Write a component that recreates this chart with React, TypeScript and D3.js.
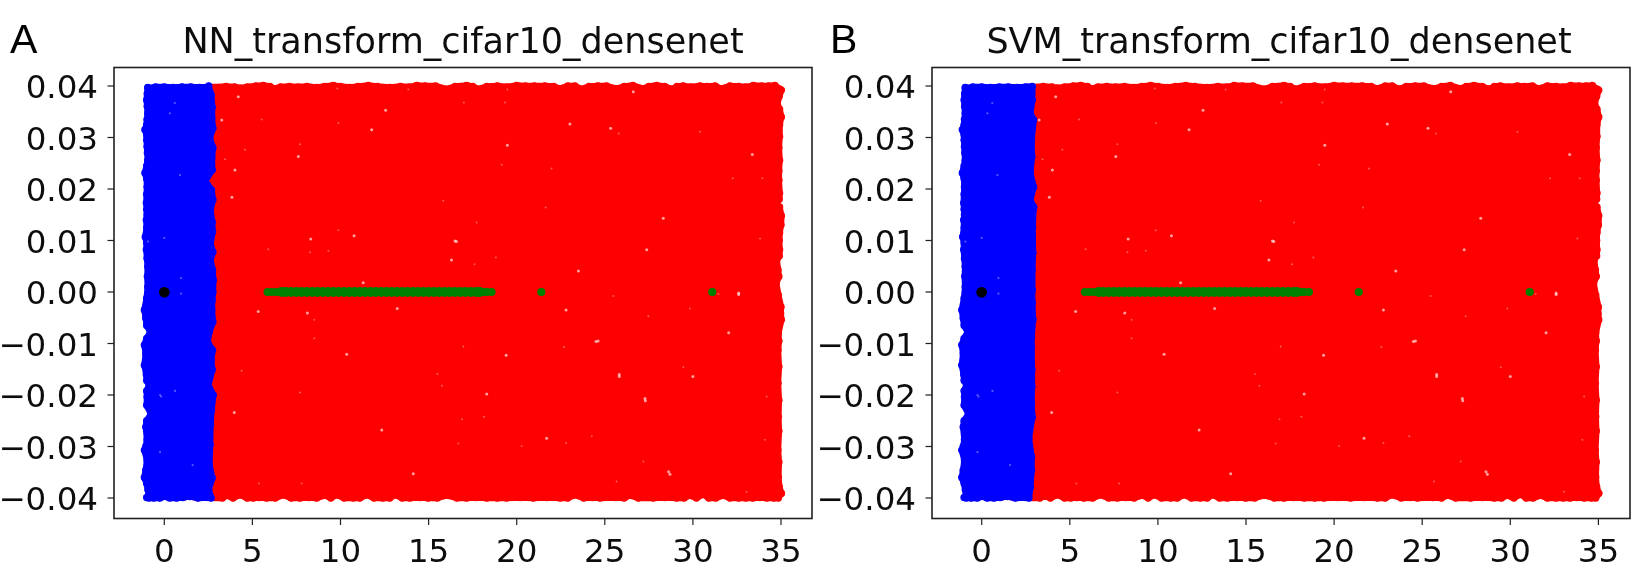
import React from "react";
import * as d3 from "d3";

type P = [number, number];

const panelLetters = ["A", "B"];
const panelTitles = ["NN_transform_cifar10_densenet", "SVM_transform_cifar10_densenet"];
const xTickValues = [0, 5, 10, 15, 20, 25, 30, 35];
const xTickLabels = ["0", "5", "10", "15", "20", "25", "30", "35"];
const yTickValues = [0.04, 0.03, 0.02, 0.01, 0, -0.01, -0.02, -0.03, -0.04];
const yTickLabels = ["0.04", "0.03", "0.02", "0.01", "0.00", "\u22120.01", "\u22120.02", "\u22120.03", "\u22120.04"];

// Outline of the scatter cloud
const topEdge: P[] = [[-0.92,.0396],[-0.5,.0398],[0,.0398],[0.5,.0397],[1,.0398],[1.5,.0398],[2,.0397],[2.5,.0398],[3,.0398],[3.5,.0399],[4,.0398],[4.3,.0396],[4.7,.0398],[5.2,.04],[5.62,.0401],[6,.0399],[6.19,.0395],[6.6,.0398],[7.1,.0399],[7.6,.0398],[8.1,.0399],[8.65,.0397],[9.1,.0399],[9.59,.0401],[10,.0399],[10.54,.0397],[11,.0399],[11.58,.0401],[12.1,.0399],[12.81,.0397],[13.4,.0399],[13.9,.0398],[14.33,.0401],[14.8,.04],[15.4,.04],[16.03,.0394],[16.5,.0399],[17.16,.0401],[17.5,.0399],[17.82,.0394],[18.3,.0399],[18.9,.04],[19.47,.0398],[20,.0401],[20.5,.04],[21,.04],[21.6,.04],[22.1,.0399],[22.46,.0395],[22.9,.04],[23.3,.04],[23.69,.0394],[24.1,.0399],[24.6,.04],[25.1,.04],[25.67,.0395],[26.1,.0399],[26.6,.0401],[27.17,.0395],[27.5,.0399],[27.94,.0401],[28.4,.0399],[28.8,.0394],[29.1,.0399],[29.44,.04],[29.9,.0398],[30.4,.04],[30.8,.0399],[31.26,.04],[31.6,.0395],[32.1,.04],[32.6,.0399],[33,.0398],[33.43,.0401],[33.9,.04],[34.3,.04],[34.66,.0401],[34.94,.0394]];
const rightEdge: P[] = [[35.02,.0392],[34.9,.038],[34.79,.0366],[34.92,.0355],[35.02,.034],[34.92,.0325],[34.92,.0302],[34.88,.028],[34.92,.0256],[34.88,.0235],[34.88,.0217],[34.92,.0192],[34.9,.018],[34.73,.0173],[34.92,.0165],[35.02,.0148],[35,.013],[34.92,.0115],[34.9,.01],[34.92,.0082],[34.9,.007],[34.76,.0062],[34.83,.0043],[34.88,.003],[34.73,.0017],[34.85,-.0006],[35,-.0029],[34.98,-.0042],[35.02,-.0054],[34.85,-.008],[34.88,-.0095],[34.83,-.0113],[34.88,-.0145],[34.83,-.0177],[34.88,-.021],[34.85,-.0242],[34.88,-.027],[34.83,-.0307],[34.88,-.033],[34.85,-.0359],[34.9,-.0378],[35.02,-.0391]];
const bottomEdge: P[] = [[-1,-.0399],[-0.6,-.04],[-0.25,-.04],[-0.05,-.0397],[0.3,-.04],[0.7,-.04],[1.05,-.0399],[1.46,-.0397],[1.9,-.04],[2.5,-.0399],[2.93,-.04],[3.3,-.04],[3.54,-.0395],[3.9,-.04],[4.3,-.0394],[4.7,-.04],[5.05,-.04],[5.4,-.0399],[5.8,-.04],[6.3,-.04],[6.75,-.0394],[7.2,-.04],[7.7,-.04],[8.2,-.0399],[8.65,-.04],[9.12,-.0395],[9.45,-.04],[9.78,-.0394],[10.2,-.04],[10.73,-.04],[11.1,-.04],[11.49,-.0394],[11.9,-.04],[12.4,-.04],[12.8,-.04],[13.09,-.0394],[13.5,-.04],[13.94,-.04],[14.5,-.0399],[14.97,-.04],[15.5,-.04],[16.03,-.0395],[16.6,-.04],[17.16,-.04],[17.7,-.0399],[18.3,-.04],[18.9,-.04],[19.43,-.04],[20.2,-.0399],[20.94,-.04],[21.7,-.0399],[22.46,-.04],[22.9,-.04],[23.3,-.0394],[23.8,-.04],[24.3,-.0399],[24.73,-.04],[25.6,-.0399],[26.1,-.04],[26.43,-.0395],[26.9,-.04],[27.75,-.04],[28.4,-.0399],[29.08,-.04],[29.5,-.04],[29.83,-.0395],[30.2,-.04],[30.58,-.0393],[30.9,-.04],[31.3,-.04],[31.73,-.0395],[32.1,-.04],[32.6,-.04],[33,-.04],[33.4,-.04],[33.8,-.0399],[34.19,-.04],[34.6,-.04],[34.85,-.04],[35.02,-.0391]];
const leftEdge: P[] = [[-0.94,.0397],[-0.97,.0385],[-1,.0373],[-0.97,.036],[-0.94,.0347],[-0.98,.0335],[-1,.0325],[-1.1,.0315],[-1,.0305],[-1,.0295],[-0.98,.0282],[-0.96,.027],[-0.94,.0256],[-1,.0245],[-1.1,.0231],[-1,.022],[-0.98,.0204],[-1,.019],[-1.02,.0173],[-1,.016],[-0.98,.015],[-1.02,.014],[-1,.0125],[-1.08,.0107],[-1,.0095],[-1.02,.0082],[-0.98,.0065],[-0.94,.0049],[-0.96,.003],[-0.94,.001],[-1,-.0012],[-1.13,-.0035],[-1.05,-.0051],[-1,-.0065],[-0.79,-.0078],[-1,-.009],[-1.13,-.0103],[-1.05,-.012],[-1.13,-.0142],[-1.02,-.016],[-1,-.0172],[-0.86,-.0181],[-1,-.0192],[-0.98,-.0204],[-1,-.022],[-0.75,-.0237],[-1,-.025],[-1.05,-.0262],[-0.98,-.0287],[-1.05,-.03],[-1.13,-.0307],[-0.98,-.0326],[-1.05,-.0346],[-1.13,-.036],[-1,-.0372],[-0.93,-.0384],[-0.88,-.04]];

// The edge between blue and red class, one list per panel
const boundaryA: P[] = [[2.52,.04],[2.66,.0383],[2.72,.0359],[2.7,.0338],[2.76,.0318],[2.58,.0299],[2.76,.028],[2.7,.026],[2.72,.0237],[2.33,.0216],[2.68,.0198],[2.76,.0179],[2.62,.0159],[2.72,.0136],[2.74,.0117],[2.62,.0093],[2.76,.0078],[2.62,.0062],[2.74,.0043],[2.78,.0023],[2.76,0],[2.72,-.0016],[2.7,-.0035],[2.76,-.0058],[2.55,-.0078],[2.46,-.0097],[2.74,-.0113],[2.66,-.0132],[2.72,-.0151],[2.5,-.0181],[2.78,-.02],[2.68,-.0229],[2.62,-.0258],[2.6,-.0297],[2.56,-.0336],[2.72,-.0361],[2.52,-.0384],[2.66,-.04]];
const boundaryB: P[] = [[2.87,.0399],[2.87,.0373],[2.76,.0347],[2.95,.0334],[2.83,.0295],[2.85,.0262],[2.76,.0231],[2.95,.0204],[2.76,.0179],[2.95,.0165],[2.89,.0126],[2.91,.0076],[2.87,.0043],[2.87,.0004],[2.87,-.0021],[2.91,-.0054],[2.83,-.0087],[2.83,-.0107],[2.85,-.0151],[2.85,-.0184],[2.83,-.0216],[2.87,-.0243],[2.68,-.0284],[2.83,-.032],[2.83,-.0346],[2.76,-.0379],[2.68,-.04]];

// Visible holes in the cloud
const wideGaps: P[] = [[27.28,-.0207],[27.3,-.0211],[25.82,-.016],[25.82,-.0164],[28.62,-.0349],[28.7,-.0354],[24.62,-.0095],[24.5,-.0096],[32.6,-.0002],[32.6,-.0005],[32.03,-.0079],[30,-.0164],[21.7,-.0284],[22.8,-.0035],[19.4,-.0123],[18.3,-.0198],[14.13,-.0353],[16.3,.0062],[23.5,.0041],[23.02,.0326],[25.33,.0318],[19.47,.0285],[16.5,.0099],[16.58,.0098],[27.38,.0082],[28.32,.0143],[33.37,.0267],[26.62,.0389],[8.31,.0103],[10.77,.0109],[3.84,.0184],[4.01,.0237],[3.26,.0334],[4.2,.0379],[11.77,.0315],[12.56,.0353],[7.61,.0263],[11.29,.0018],[13.22,-.0032],[5.33,-.0038],[8.12,-.0041],[10.35,-.0121],[3.97,-.0234],[12.34,-.0268]];
const thinGaps: P[] = [[17.61,.0054],[18.82,.0067],[15.5,-.0159],[15.76,-.0182],[16.97,-.0106],[22.68,-.0107],[29.83,-.0032],[25.48,-.0008],[27.47,-.0047],[22.8,-.0293],[24.26,-.028],[20.28,-.0299],[25.67,-.0368],[27.19,-.0329],[34.19,-.0203],[34.09,-.0287],[29.46,-.0146],[31.44,-.0004],[18.14,-.0242],[16.9,-.0247],[16.69,-.0294],[21.98,.024],[25.79,.0308],[30.4,.0311],[33.94,.0221],[32.26,.0221],[21.64,.0164],[19.15,.0247],[17.73,.0135],[15.83,.0177],[33.81,.0104],[17,.0368],[19.34,.0368],[3.45,.0258],[5.53,.0335],[4.58,.0276],[7.7,.0287],[9.88,.0328],[5.9,.0083],[8.27,.0077],[9.31,.008],[9.88,.012],[8.51,-.0054],[4.39,-.0153],[7.7,-.0195],[5.37,-.0372],[7.8,-.0372],[8.51,-.009],[9.82,.0395],[13.85,.0393],[19.47,.0393],[33.05,-.0388]];
const blueGaps: P[] = [[-0.24,-.02],[-0.18,-.0203],[0.95,-.0003],[0.95,.0027],[-0.24,-.0311],[1.61,-.0336],[0.61,-.0192],[-0.93,.0098],[0,.0105],[0.89,.0227],[0.32,.0347],[0.6,.0367]];

// Green class along y = 0, tapering at both ends
const greenLine: P[] = [[5.86,0],[6.1,0],[6.35,0],[6.6,0],[18.1,0],[18.3,0],[18.57,0],[21.4,0],[31.1,0]];
const greenBody: P[] = [[6.65,0],[6.9,0],[7.2,0],[7.5,0],[7.8,0],[8.1,0],[8.4,0],[8.7,0],[9,0],[9.3,0],[9.6,0],[9.9,0],[10.2,0],[10.5,0],[10.8,0],[11.1,0],[11.4,0],[11.7,0],[12,0],[12.3,0],[12.6,0],[12.9,0],[13.2,0],[13.5,0],[13.8,0],[14.1,0],[14.4,0],[14.7,0],[15,0],[15.3,0],[15.6,0],[15.9,0],[16.2,0],[16.5,0],[16.8,0],[17.1,0],[17.4,0],[17.7,0],[17.9,0]];
const blackPoints: P[] = [[0, 0]];

const frames = [
  { left: 114, right: 812, zero: 164.3 },
  { left: 932, right: 1630, zero: 981.7 },
];
const top = 67.5, bottom = 518.5;
const pxPerUnit = 17.62;
const TICK = 6.5;
const tickFont = 32.5;
const dots = 3.7;

function Panel({ index }: { index: number }) {
  const f = frames[index];
  const x = d3.scaleLinear().domain([0, 35]).range([f.zero, f.zero + 35 * pxPerUnit]);
  const y = d3.scaleLinear().domain([0.04, -0.04]).range([86, 498]);
  const line = d3.line<P>().x((d) => x(d[0])).y((d) => y(d[1]));
  const boundary = index === 0 ? boundaryA : boundaryB;
  const boundaryTop = boundary[0][0];
  const boundaryBottom = boundary[boundary.length - 1][0];

  const redPts: P[] = [
    ...topEdge.filter((d) => d[0] > 1),
    ...rightEdge,
    ...[...bottomEdge].reverse().filter((d) => d[0] > 1),
  ];
  const redDots = redPts.filter((d) => d[0] > 3);
  const bluePts: P[] = [
    ...topEdge.filter((d) => d[0] < boundaryTop),
    ...boundary,
    ...[...bottomEdge].reverse().filter((d) => d[0] < boundaryBottom),
    ...[...leftEdge].reverse(),
  ];
  const titleX = (f.left + f.right) / 2 - (index === 0 ? 0 : 2);

  return (
    <g>
      <path d={line(redPts)! + "Z"} fill="#ff0000" stroke="#ff0000" strokeWidth={6.4} strokeLinejoin="round" />
      {redDots.map((d, i) => <circle key={"r" + i} cx={x(d[0])} cy={y(d[1])} r={dots} fill="#ff0000" />)}
      <path d={line(bluePts)! + "Z"} fill="#0000ff" stroke="#0000ff" strokeWidth={6.4} strokeLinejoin="round" />
      {bluePts.map((d, i) => <circle key={"b" + i} cx={x(d[0])} cy={y(d[1])} r={dots} fill="#0000ff" />)}
      {wideGaps.map((d, i) => <circle key={"w" + i} cx={x(d[0])} cy={y(d[1])} r={1.5} fill="#fff" opacity={0.62} />)}
      {thinGaps.map((d, i) => <circle key={"t" + i} cx={x(d[0])} cy={y(d[1])} r={1} fill="#fff" opacity={0.35} />)}
      {blueGaps.map((d, i) => <circle key={"g" + i} cx={x(d[0])} cy={y(d[1])} r={1.1} fill="#fff" opacity={0.35} />)}
      {greenLine.map((d, i) => <circle key={"l" + i} cx={x(d[0])} cy={y(d[1])} r={4.1} fill="#008000" />)}
      {greenBody.map((d, i) => <circle key={"n" + i} cx={x(d[0])} cy={y(d[1])} r={5} fill="#008000" />)}
      {blackPoints.map((d, i) => <circle key={"k" + i} cx={x(d[0])} cy={y(d[1]) + 0.3} r={5.4} fill="#000" />)}

      <rect x={f.left} y={top} width={f.right - f.left} height={bottom - top} fill="none" stroke="#222" strokeWidth={1.6} />
      {xTickValues.map((v, i) => (
        <g key={"xt" + i}>
          <line x1={x(v)} x2={x(v)} y1={bottom} y2={bottom + TICK} stroke="#222" strokeWidth={1.2} />
          <text x={x(v)} y={562} textAnchor="middle" fontFamily="DejaVu Sans" fontSize={tickFont} fill="#111">{xTickLabels[i]}</text>
        </g>
      ))}
      {yTickValues.map((v, i) => (
        <g key={"yt" + i}>
          <line x1={f.left - TICK} x2={f.left} y1={y(v)} y2={y(v)} stroke="#222" strokeWidth={1.2} />
          <text x={f.left - 16} y={y(v) + 12.3} textAnchor="end" fontFamily="DejaVu Sans" fontSize={tickFont} fill="#111">{yTickLabels[i]}</text>
        </g>
      ))}
      <text x={titleX} y={53} textAnchor="middle" fontFamily="DejaVu Sans" fontSize={35} fill="#111">{panelTitles[index]}</text>
      <text x={index === 0 ? 10 : 830} y={53} fontFamily="Liberation Sans" fontSize={41} fill="#000">{panelLetters[index]}</text>
    </g>
  );
}

export default function App() {
  return (
    <svg width={1637} height={570} viewBox="0 0 1637 570" style={{ position: "absolute", left: 0, top: 0, display: "block", background: "#fff" }}>
      <defs>
        <filter id="soft" filterUnits="userSpaceOnUse" x={0} y={0} width={1637} height={570}>
          <feGaussianBlur stdDeviation={0.7} />
        </filter>
      </defs>
      <g filter="url(#soft)">
        {frames.map((_, i) => <Panel key={i} index={i} />)}
      </g>
    </svg>
  );
}
